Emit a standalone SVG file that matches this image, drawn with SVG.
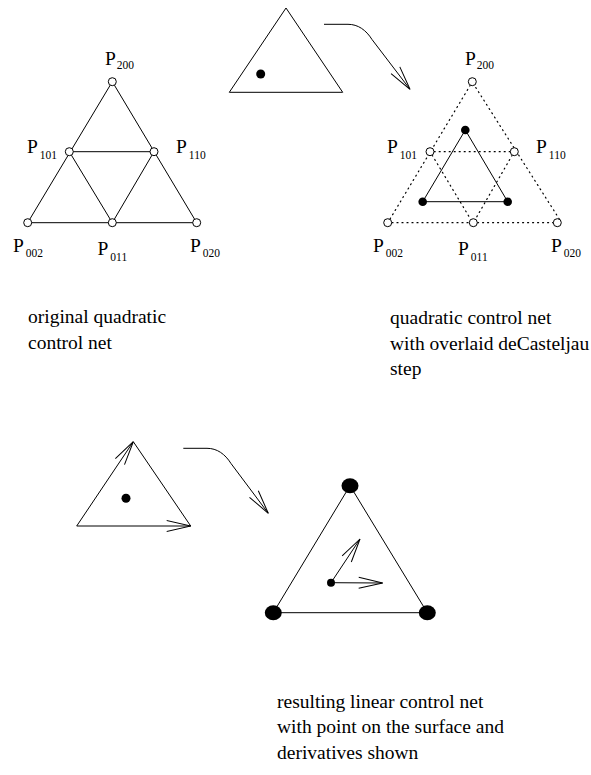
<svg xmlns="http://www.w3.org/2000/svg" width="591" height="775" viewBox="0 0 591 775">
<style>
.l{fill:none;stroke:#000;stroke-width:1}
.d{fill:none;stroke:#000;stroke-width:1.2;stroke-dasharray:1 4;stroke-linecap:round}
.c{fill:#fff;stroke:#000;stroke-width:1}
.f{fill:#000}
text{font-family:"Liberation Serif","Times New Roman",serif;fill:#000}
.t{font-size:19.5px}
.p{font-size:19.5px}
.s{font-size:11.5px}
</style>
<defs>
<marker id="ah" markerUnits="userSpaceOnUse" markerWidth="30" markerHeight="16" refX="25" refY="8" orient="auto" overflow="visible">
<path d="M25,8 L1,2.5 M25,8 L1,13.5" fill="none" stroke="#000" stroke-width="1"/>
</marker>
</defs>
<g id="connectors">
<path class="l" d="M324,24.3 L348,24.3 C358,24.3 366,30 372,39.5 L410,89.3" marker-end="url(#ah)"/>
<path class="l" d="M183.3,448.3 L207,448.3 C217,448.3 225,454 231,463.5 L268.3,513.3" marker-end="url(#ah)"/>
</g>
<g id="original-net">
<path class="l" d="M112.3,81.7 L27.7,222.7 L196.7,222.7 Z M69.3,151.7 L154,151.7 L112.3,222.7 Z"/>
<circle class="c" cx="112.3" cy="81.7" r="4"/>
<circle class="c" cx="69.3" cy="151.7" r="4"/>
<circle class="c" cx="154" cy="151.7" r="4"/>
<circle class="c" cx="27.7" cy="222.7" r="4"/>
<circle class="c" cx="112.3" cy="222.7" r="4"/>
<circle class="c" cx="196.7" cy="222.7" r="4"/>
<text class="p" x="105" y="65">P<tspan class="s" dx="1" dy="4">200</tspan></text>
<text class="p" x="27" y="152.5">P<tspan class="s" dx="2" dy="6">101</tspan></text>
<text class="p" x="176" y="152.5">P<tspan class="s" dx="2" dy="6">110</tspan></text>
<text class="p" x="13" y="251.7">P<tspan class="s" dx="2" dy="5.5">002</tspan></text>
<text class="p" x="97.5" y="255">P<tspan class="s" dx="2" dy="5.5">011</tspan></text>
<text class="p" x="190" y="251.7">P<tspan class="s" dx="2" dy="5.5">020</tspan></text>
</g>
<g id="small-triangle">
<path class="l" d="M286,8 L229.3,92.3 L342.7,92.3 Z"/>
<circle class="f" cx="260.7" cy="74" r="4.5"/>
</g>
<g id="decasteljau-net">
<path class="d" d="M470.3,85.2 L389.9,219.2 M392,222.7 L468.6,222.7 M477.6,222.7 L553.3,222.7 M559.4,219.2 L474.3,85.2 M434.2,151.7 L510.2,151.7 M432.2,155.2 L470.6,219.2 M512.2,155.2 L475.4,219.2"/>
<circle class="c" cx="472.3" cy="81.7" r="4"/>
<circle class="c" cx="430" cy="151.7" r="4"/>
<circle class="c" cx="514.3" cy="151.7" r="4"/>
<circle class="c" cx="387.7" cy="222.7" r="4"/>
<circle class="c" cx="473.3" cy="222.7" r="4"/>
<circle class="c" cx="557.3" cy="222.7" r="4"/>
<path class="l" d="M465.3,130 L422.7,201.7 L507.7,201.7 Z"/>
<circle class="f" cx="465.3" cy="130" r="4.3"/>
<circle class="f" cx="422.7" cy="201.7" r="4.3"/>
<circle class="f" cx="507.7" cy="201.7" r="4.3"/>
<text class="p" x="465" y="65">P<tspan class="s" dx="1" dy="4">200</tspan></text>
<text class="p" x="387" y="152.5">P<tspan class="s" dx="2" dy="6">101</tspan></text>
<text class="p" x="536" y="152.5">P<tspan class="s" dx="2" dy="6">110</tspan></text>
<text class="p" x="373" y="251.7">P<tspan class="s" dx="2" dy="5.5">002</tspan></text>
<text class="p" x="458" y="255">P<tspan class="s" dx="2" dy="5.5">011</tspan></text>
<text class="p" x="551" y="251.7">P<tspan class="s" dx="2" dy="5.5">020</tspan></text>
</g>
<g id="label-original">
<text class="t" x="28" y="323">original quadratic</text>
<text class="t" x="28" y="349">control net</text>
</g>
<g id="label-decasteljau">
<text class="t" x="390" y="324">quadratic control net</text>
<text class="t" x="390" y="350">with overlaid deCasteljau</text>
<text class="t" x="390" y="375">step</text>
</g>
<g id="param-triangle">
<path class="l" d="M133.3,441.7 L190.7,526"/>
<path class="l" d="M76.7,526 L133.3,441.7" marker-end="url(#ah)"/>
<path class="l" d="M76.7,526 L190.7,526" marker-end="url(#ah)"/>
<circle class="f" cx="126" cy="498.3" r="4.5"/>
</g>
<g id="linear-net">
<path class="l" d="M350,485.7 L273.3,612.7 L427.3,612.7 Z"/>
<ellipse class="f" cx="350" cy="485.7" rx="8.5" ry="7.5"/>
<ellipse class="f" cx="273.3" cy="612.7" rx="8.5" ry="7.5"/>
<ellipse class="f" cx="427.3" cy="612.7" rx="8.5" ry="7.5"/>
<path class="l" d="M331,582.7 L360,539" marker-end="url(#ah)"/>
<path class="l" d="M331,582.7 L382.7,583" marker-end="url(#ah)"/>
<circle class="f" cx="331" cy="582.7" r="4"/>
</g>
<g id="label-linear">
<text class="t" x="277" y="708">resulting linear control net</text>
<text class="t" x="277" y="733">with point on the surface and</text>
<text class="t" x="277" y="759">derivatives shown</text>
</g>
</svg>
